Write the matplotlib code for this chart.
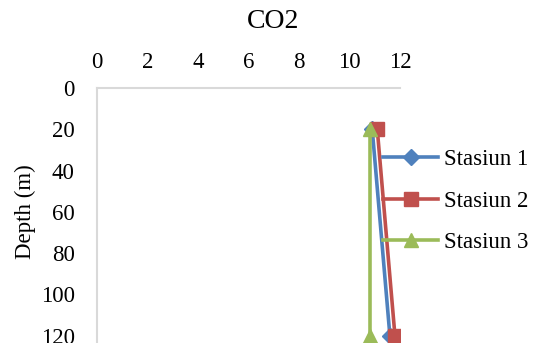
import numpy as np
import matplotlib.pyplot as plt

plt.rcParams['font.family'] = ['Liberation Serif', 'DejaVu Serif']

depth = [20, 120]
stasiun_1 = [10.9, 11.6]
stasiun_2 = [11.1, 11.8]
stasiun_3 = [10.8, 10.8]
x_ticks = [0, 2, 4, 6, 8, 10, 12]
y_ticks = [0, 20, 40, 60, 80, 100, 120]

fig = plt.figure(figsize=(5.39, 3.43), dpi=100)
ax = fig.add_axes([97 / 539, 1 - 377 / 343, 303 / 539, 289 / 343])

ax.plot(stasiun_1, depth, color='#4F81BD', lw=2.6, marker='D', ms=8, label='Stasiun 1')
ax.plot(stasiun_2, depth, color='#C0504D', lw=2.6, marker='s', ms=10, label='Stasiun 2')
ax.plot(stasiun_3, depth, color='#9BBB59', lw=2.6, marker='^', ms=10, label='Stasiun 3')

ax.set_xlim(0, 12)
ax.set_ylim(140, 0)
ax.set_xticks(x_ticks)
ax.set_yticks(y_ticks)
ax.xaxis.tick_top()
ax.tick_params(length=0, labelsize=16.5, pad=11)
ax.tick_params(axis='y', pad=16)
for side in ['right', 'bottom']:
    ax.spines[side].set_visible(False)
for side in ['top', 'left']:
    ax.spines[side].set_color('#D9D9D9')
    ax.spines[side].set_linewidth(1.5)

fig.text(273 / 539, 1 - 21 / 343, 'CO2', ha='center', va='center', fontsize=20)
fig.text(25 / 539, 1 - 212 / 343, 'Depth (m)', ha='center', va='center',
         rotation=90, fontsize=16.5)

fig.legend(loc='upper left', bbox_to_anchor=(383 / 539, 1 - 149 / 343),
           frameon=False, fontsize=16.5, handlelength=2.4, handletextpad=0.25,
           labelspacing=0.9, borderaxespad=0, borderpad=0)

fig.savefig('out.png', dpi=100)
